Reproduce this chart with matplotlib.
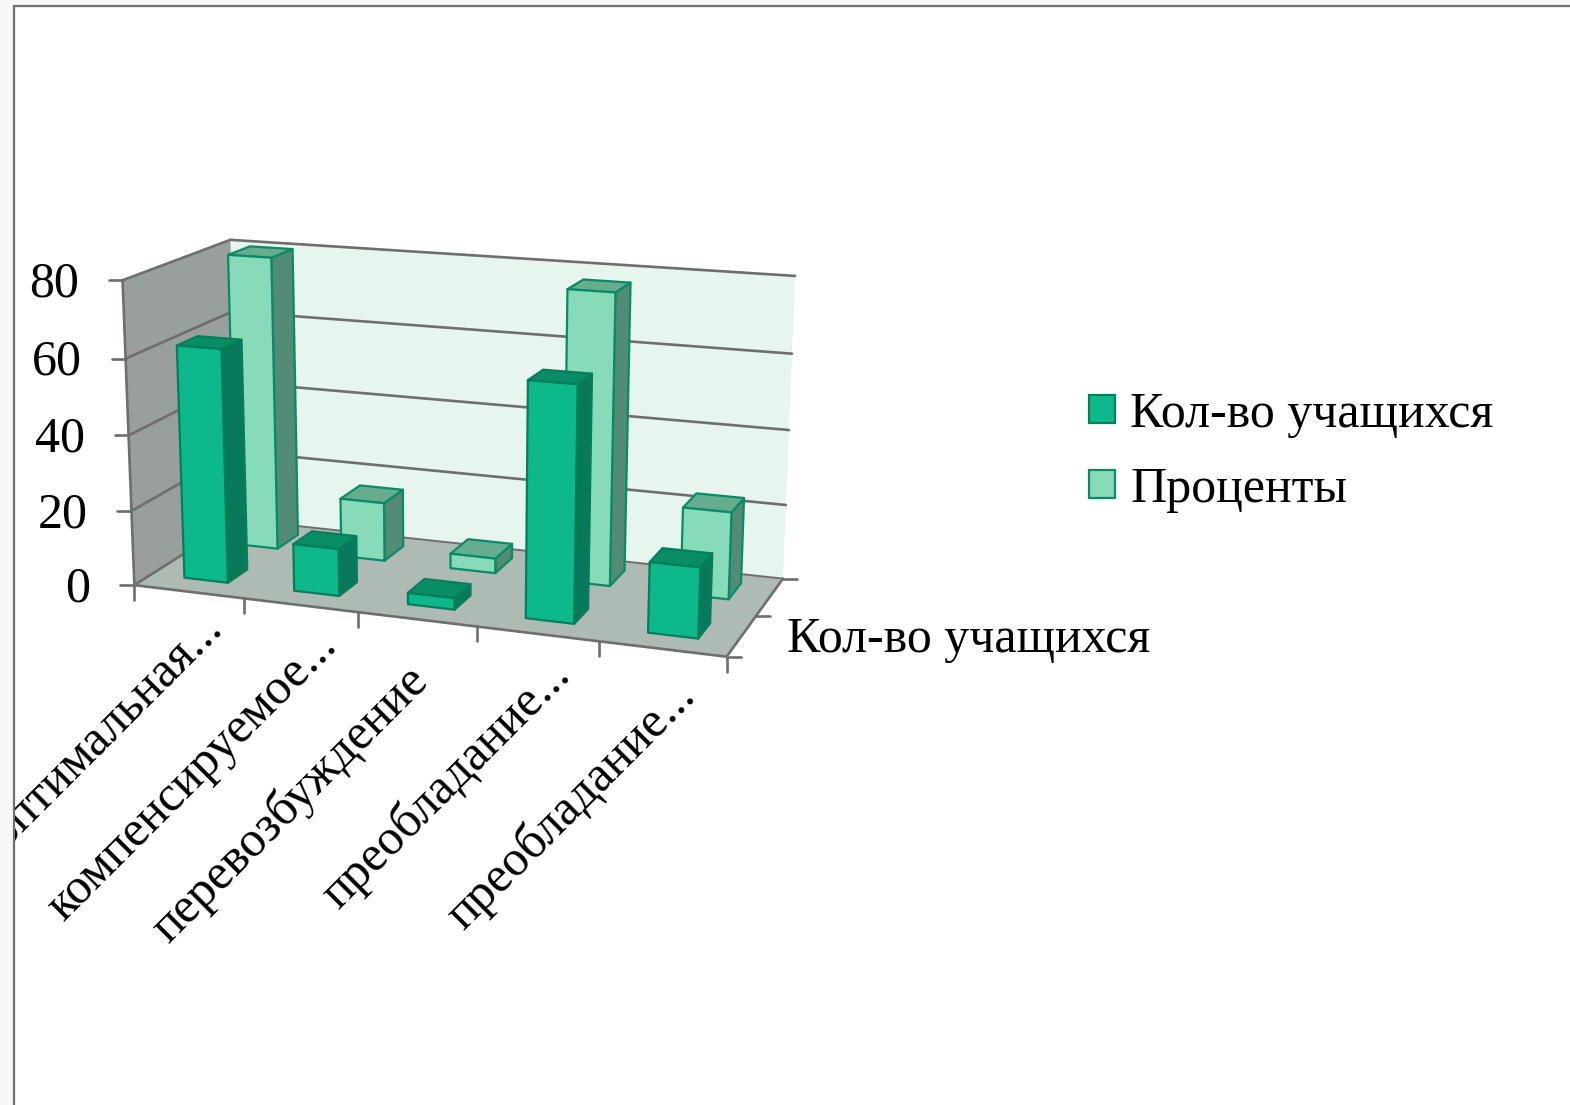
import numpy as np
import matplotlib
matplotlib.use("Agg")
import matplotlib.pyplot as plt
from matplotlib.patches import Polygon, Rectangle, Patch

# ---- data ----
categories = ["оптимальная...", "компенсируемое...", "перевозбуждение", "преобладание...", "преобладание..."]
series_names = ["Кол-во учащихся", "Проценты"]
counts = [62, 12.5, 3, 60.5, 18]
percents = [80, 16, 4, 77, 23]
value_ticks = [0, 20, 40, 60, 80]

# ---- style ----
W, H = 1570, 1105
FONT = "Liberation Serif"
FS = 36
LINE = "#6E6E6E"
STYLES = [
    dict(front="#0DB98A", side="#08795A", top="#088D66", edge="#067E5C"),
    dict(front="#88DBB9", side="#528C75", top="#66AD90", edge="#0A8A66"),
]
LABEL_SHIFT = [(27, 30), (29, 33), (4, 55), (25, 34), (25, 40)]

# ---- 3-D scale: (category, depth, value) -> picture position, a fitted perspective camera ----
calib = [
    ((0, 0, 0), (135, 585), 3), ((1, 0, 0), (245, 599), 1), ((2, 0, 0), (358, 613), 1),
    ((3, 0, 0), (476, 627), 1), ((4, 0, 0), (599, 642), 1), ((5, 0, 0), (726, 657), 3),
    ((0, 1, 0), (231, 521), 1), ((5, 1, 0), (783, 578), 3), ((5, .5, 0), (762, 615), 1),
    ((0, 0, 20), (132, 511), 1), ((0, 0, 40), (129, 435), 1), ((0, 0, 60), (126, 358), 1), ((0, 0, 80), (122, 280), 3),
    ((0, 1, 80), (231, 240), 3), ((5, 1, 80), (795, 276), 3), ((5, 1, 60), (792, 354), 1),
    ((5, 1, 40), (789, 431), 1), ((5, 1, 20), (786, 506), 1),
]
rows = []
for (a, b, c), (u, v), w in calib:
    c = c / 80
    rows.append([w * e for e in [a, b, c, 1, 0, 0, 0, 0, -u * a, -u * b, -u * c, -u]])
    rows.append([w * e for e in [0, 0, 0, 0, a, b, c, 1, -v * a, -v * b, -v * c, -v]])
P = np.linalg.svd(np.array(rows, float))[2][-1].reshape(3, 4)


def proj(x, y, z):
    q = P @ np.array([x, y, z / 80, 1.0])
    return q[:2] / q[2]


fig = plt.figure(figsize=(W / 100, H / 100), dpi=100, facecolor="white")
ax = fig.add_axes([0, 0, 1, 1])
ax.set_xlim(0, W)
ax.set_ylim(H, 0)
ax.axis("off")

# slide frame
ax.add_patch(Rectangle((0, 0), W, 5, fc="#F7F7F7", ec="none"))
ax.add_patch(Rectangle((0, 0), 13, H, fc="#F7F7F7", ec="none"))
ax.plot([13.5, 13.5, W], [H, 5.5, 5.5], color="#707070", lw=1.6, solid_joinstyle="miter")

xn, zn = len(categories), value_ticks[-1]


def poly(pts, fc, ec="none", lw=0, z=1):
    ax.add_patch(Polygon([proj(*p) for p in pts], closed=True, fc=fc, ec=ec, lw=lw, zorder=z, joinstyle="round"))


# walls and floor
poly([(0, 1, 0), (xn, 1, 0), (xn, 1, zn), (0, 1, zn)], "#E6F5EE")
poly([(0, 0, 0), (0, 1, 0), (0, 1, zn), (0, 0, zn)], "#999F9C")
poly([(0, 0, 0), (xn, 0, 0), (xn, 1, 0), (0, 1, 0)], "#AEBBB5")


def seg(a, b, off=(0, 0), lw=1.9):
    pa, pb = proj(*a), proj(*b) + np.array(off)
    ax.plot([pa[0], pb[0]], [pa[1], pb[1]], color=LINE, lw=lw, zorder=2, solid_capstyle="round")


for v in value_ticks:
    seg((0, 0, v), (0, 1, v))
    seg((0, 1, v), (xn, 1, v)) if v else seg((0, 1, 0), (xn, 1, 0), lw=1.4)
    seg((0, 0, v), (0, 0, v), off=(-14, 0))
    px, py = proj(0, 0, v)
    ax.text(px - 44, py + 4, str(v), ha="right", va="center", family=FONT, fontsize=FS, color="black")
seg((0, 0, 0), (0, 0, zn))
seg((0, 0, 0), (xn, 0, 0))
seg((xn, 0, 0), (xn, 1, 0))
for i in range(xn + 1):
    seg((i, 0, 0), (i, 0, 0), off=(0, 15))
for d in (0, .5, 1):
    seg((xn, d, 0), (xn, d, 0), off=(14, 0))


def bar3d(cat, d0, d1, value, st):
    x0, x1 = cat + .3, cat + .7
    kw = dict(ec=st["edge"], lw=1.6, z=3)
    poly([(x1, d0, 0), (x1, d1, 0), (x1, d1, value), (x1, d0, value)], st["side"], **kw)
    poly([(x0, d0, value), (x1, d0, value), (x1, d1, value), (x0, d1, value)], st["top"], **kw)
    poly([(x0, d0, 0), (x1, d0, 0), (x1, d0, value), (x0, d0, value)], st["front"], **kw)


for i, v in enumerate(percents):
    bar3d(i, .66, .88, v, STYLES[1])
for i, v in enumerate(counts):
    bar3d(i, .16, .35, v, STYLES[0])

# category labels (the first one runs into the slide frame and is cut there, as in the source)
clip = Rectangle((15, 0), W, H, transform=ax.transData)
for i, name in enumerate(categories):
    px, py = proj(i + .5, 0, 0)
    dx, dy = LABEL_SHIFT[i]
    t = ax.text(px + dx, py + dy, name, rotation=45, rotation_mode="anchor", ha="right", va="center",
                family=FONT, fontsize=FS, color="black")
    t.set_clip_path(clip)
    t.set_clip_on(True)

# depth label
ax.text(787, 652, series_names[0], ha="left", va="baseline", family=FONT, fontsize=FS, color="black")

handles = [Patch(fc=s["front"], ec=s["edge"], lw=1.6) for s in STYLES]
ax.legend(handles, series_names, loc="upper left", bbox_to_anchor=(1089 / W, 1 - 391 / H),
          frameon=False, prop={"family": FONT, "size": FS}, handlelength=.52, handleheight=.5,
          handletextpad=.3, labelspacing=.57, borderpad=0, borderaxespad=0)

fig.savefig("out.png", dpi=100, facecolor="white")
